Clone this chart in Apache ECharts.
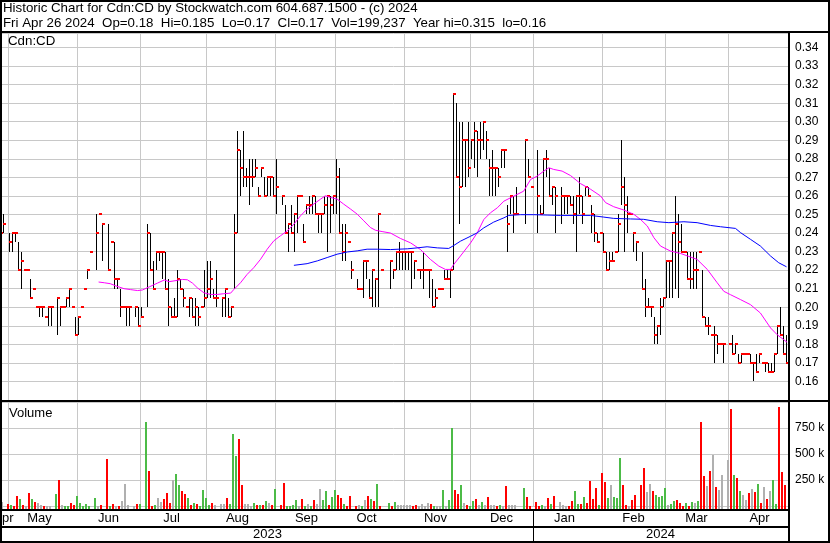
<!DOCTYPE html>
<html><head><meta charset="utf-8">
<script src="https://cdn.jsdelivr.net/npm/echarts@6/dist/echarts.min.js"></script>
<style>html,body{margin:0;padding:0;background:#fff}#c{width:830px;height:543px}</style>
</head><body><div id="c"></div>
<script>
// ---- data (one slot per weekday, Apr 26 2023 .. Apr 26 2024; null = no trade) ----
const startDate = '2023-04-26';
const endDate = '2024-04-26';
const titleLine1 = 'Historic Chart for Cdn:CD by Stockwatch.com 604.687.1500 - (c) 2024';
const titleLine2 = 'Fri Apr 26 2024  Op=0.18  Hi=0.185  Lo=0.17  Cl=0.17  Vol=199,237  Year hi=0.315  lo=0.16';
const symbolLabel = 'Cdn:CD';
const volumeLabel = 'Volume';
const monthNames = ['Jan','Feb','Mar','Apr','May','Jun','Jul','Aug','Sep','Oct','Nov','Dec'];

const highs = [
.245,.25,null,.24,.24,.24,.235,.23,.22,.22,
.215,.21,.20,.20,.20,.195,.20,.20,null,.205,
.20,.20,.205,.21,.20,.195,.195,.20,.21,.22,
.23,null,.25,.25,.245,null,.245,.235,.235,.215,
.21,.20,.20,.20,null,.20,.20,.20,null,.245,
.24,.225,.23,.23,.23,.23,.215,.20,.205,.22,
.215,.21,.20,.205,.205,.205,.20,.20,.22,.225,
.225,.21,.22,null,.205,.21,.205,.20,.25,.295,
.285,.295,.275,.28,.28,.28,.265,.275,.27,.27,
.27,.27,.28,null,.26,.255,.245,.255,.25,.26,
.26,.245,.255,.26,.26,.26,.25,.25,.26,.26,
.26,.26,.28,.275,.245,.245,.235,.225,null,.215,
.21,.225,.225,.215,.22,.215,.25,.22,null,null,
.225,.22,.23,.235,.23,.23,.23,.23,.225,.22,
.22,.23,.22,.22,.215,.21,.21,.21,.22,.22,
.22,.315,.31,.30,.30,.29,.30,.29,.30,.295,
.30,.30,.295,.28,.285,.275,.275,.285,.285,.255,
.26,.26,.265,null,null,.29,.28,.265,null,.285,
.255,.28,.285,.275,.265,.265,null,.265,.26,.26,
.26,.26,.26,.27,.26,.265,.265,.255,.25,.24,
.24,.24,.23,.23,.23,.23,.25,.29,.27,.26,
.25,.24,.235,null,.23,.215,.205,.20,.195,.19,
.205,.205,.225,.225,.24,.26,.25,.245,.23,.23,
.23,.23,.23,.23,.22,.195,.195,.185,.19,.185,
.18,.18,null,.18,.185,.18,.175,.175,.175,.175,
.175,.17,.175,.175,.17,.17,.17,.17,.175,.19,
.20,.19,.185];

const lows = [
.24,.24,null,.23,.23,.235,.22,.21,.22,.22,
.205,.21,.20,.195,.195,.195,.19,.19,null,.185,
.19,.20,.20,.20,.20,.185,.185,.20,.21,.215,
.23,null,.22,.25,.225,null,.22,.235,.21,.21,
.195,.20,.19,.19,null,.195,.19,.195,null,.20,
.22,.21,.22,.225,.215,.21,.19,.195,.195,.195,
.21,.20,.20,.195,.195,.19,.19,.20,.20,.205,
.205,.205,.20,null,.195,.195,.195,.195,.21,.24,
.26,.265,.265,.255,.265,.27,.26,.27,.26,.26,
.26,.26,.25,null,.255,.24,.23,.24,.23,.24,
.26,.235,.25,.25,.25,.25,.24,.24,.25,.23,
.24,.25,.25,.24,.225,.225,.235,.215,null,.21,
.21,.205,.215,.205,.20,.20,.20,.22,null,null,
.21,.215,.22,.22,.22,.22,.22,.21,.215,.22,
.215,.21,.22,.205,.20,.20,.21,.21,.215,.215,
.205,.22,.27,.245,.265,.265,.27,.28,.275,.27,
.28,.285,.28,.26,.26,.26,.265,.275,.275,.23,
.25,.24,.25,null,null,.245,.27,.265,null,.24,
.25,.25,.27,.26,.255,.24,null,.245,.25,.25,
.255,.245,.23,.25,.245,.26,.26,.24,.235,.235,
.24,.23,.22,.22,.225,.23,.23,.255,.23,.24,
.25,.23,.225,null,.21,.195,.20,.195,.18,.18,
.185,.20,.205,.205,.205,.21,.205,.23,.23,.215,
.21,.21,.21,.23,.195,.19,.185,.185,.17,.175,
.18,.17,null,.18,.175,.175,.17,.17,.175,.175,
.17,.16,.165,.17,.17,.165,.165,.165,.165,.175,
.185,.175,.17];

const closes = [
.24,.245,null,.235,.24,.24,.22,.225,.22,.22,
.205,.21,.20,.20,.20,.195,.20,.20,null,.205,
.20,.20,.205,.21,.20,.185,.195,.20,.21,.22,
.23,null,.24,.25,.245,null,.22,.235,.215,.215,
.20,.20,.20,.20,null,.20,.19,.195,null,.24,
.22,.21,.23,.23,.23,.21,.20,.195,.195,.215,
.21,.205,.20,.205,.195,.20,.195,.20,.205,.21,
.215,.205,.205,null,.205,.21,.195,.20,.24,.285,
.275,.27,.27,.27,.27,.275,.26,.275,.26,.27,
.27,.26,.265,null,.26,.24,.245,.24,.25,.26,
.26,.235,.255,.255,.26,.25,.25,.25,.255,.26,
.255,.26,.27,.24,.23,.24,.235,.22,null,.21,
.21,.225,.225,.205,.22,.215,.25,.22,null,null,
.225,.22,.23,.23,.23,.23,.23,.23,.225,.22,
.22,.22,.22,.22,.20,.205,.21,.21,.215,.215,
.22,.315,.27,.265,.29,.29,.275,.29,.295,.29,
.29,.30,.29,.275,.275,.275,.27,.285,.285,.245,
.26,.25,.25,null,null,.29,.27,.265,null,.26,
.25,.28,.28,.26,.265,.26,null,.26,.26,.26,
.255,.25,.26,.26,.25,.265,.26,.25,.24,.235,
.24,.23,.22,.225,.225,.23,.245,.265,.255,.25,
.25,.24,.235,null,.21,.20,.20,.20,.185,.19,
.20,.205,.225,.225,.24,.245,.235,.23,.23,.215,
.215,.22,.22,.23,.195,.19,.19,.185,.185,.18,
.18,.18,null,.18,.175,.18,.17,.175,.175,.175,
.17,.17,.165,.175,.17,.17,.165,.165,.175,.19,
.185,.175,.17];

const volumes = [
20000,40000,null,17000,5000,3000,95000,66000,5000,4000,
124000,66000,37000,27000,14000,3000,3000,3000,null,114000,
250000,5000,3000,3000,27000,8000,95000,27000,3000,17000,
3000,null,76000,3000,5000,null,453000,3000,17000,3000,
3000,47000,211000,8000,null,3000,17000,17000,null,812000,
337000,3000,5000,76000,37000,66000,124000,27000,250000,308000,
202000,143000,114000,76000,8000,27000,17000,3000,153000,76000,
5000,27000,8000,null,17000,17000,76000,17000,696000,483000,
647000,202000,17000,17000,3000,27000,5000,5000,5000,47000,
27000,5000,163000,null,5000,221000,3000,3000,5000,56000,
2000,66000,3000,17000,3000,56000,17000,163000,56000,143000,
5000,85000,153000,105000,76000,17000,3000,95000,null,3000,
5000,3000,56000,95000,66000,47000,211000,3000,null,null,
27000,2000,37000,8000,8000,8000,5000,8000,2000,5000,
2000,17000,3000,27000,17000,2000,3000,2000,153000,2000,
56000,754000,153000,114000,202000,27000,5000,2000,47000,66000,
8000,37000,5000,85000,5000,8000,3000,5000,2000,192000,
8000,8000,8000,null,null,172000,85000,3000,null,37000,
2000,8000,3000,76000,17000,95000,null,37000,5000,3000,
2000,47000,143000,17000,17000,85000,27000,240000,66000,172000,
8000,318000,231000,76000,202000,85000,76000,463000,202000,5000,
3000,56000,105000,null,202000,366000,134000,211000,143000,105000,
85000,95000,172000,8000,17000,47000,56000,27000,2000,27000,
3000,37000,27000,47000,812000,289000,192000,337000,495000,182000,
153000,298000,null,444000,928000,298000,269000,143000,105000,56000,
124000,163000,134000,211000,27000,182000,66000,143000,250000,17000,
948000,327000,199237];

// u = up (green), d = down (red), n = unchanged (grey)
const volDir = [
'n','n',null,'d','u','d','d','u','d','n',
'd','u','d','n','n','d','n','n',null,'u',
'd','n','u','u','d','d','u','u','u','u',
'u',null,'u','n','d',null,'d','u','d','n',
'd','n','n','n',null,'n','d','u',null,'u',
'd','d','u','n','n','d','d','d','n','u',
'u','d','d','u','d','u','d','u','u','u',
'u','d','n',null,'n','n','d','u','u','u',
'd','d','n','n','n','u','d','u','d','u',
'n','d','u',null,'d','d','u','u','u','u',
'n','d','u','n','u','d','n','n','u','u',
'd','u','u','d','d','u','d','d',null,'d',
'n','u','n','d','u','d','u','d',null,null,
'u','d','u','n','n','n','n','n','d','d',
'n','n','n','n','d','u','n','n','u','n',
'u','u','d','d','u','n','d','u','u','d',
'n','u','n','d','n','n','d','u','n','d',
'n','n','n',null,null,'u','d','d',null,'d',
'd','u','n','d','u','d',null,'n','n','n',
'd','d','u','u','d','u','d','d','d','d',
'u','d','d','u','n','u','u','u','d','d',
'n','d','d',null,'d','d','n','n','d','u',
'u','u','u','n','u','u','d','d','d','u',
'd','u','n','u','d','d','n','d','n','d',
'n','n',null,'n','d','u','d','u','n','n',
'd','n','d','u','d','n','d','n','u','u',
'd','d','d'];

// moving averages: [slot, value]
const maMagenta = [[32.7,.2136],[34.6,.2132],[36.6,.2127],[38.8,.2113],[41.2,.2100],[43.4,.2095],[45.7,.2090],[47.3,.2093],[49.6,.2110],[52.3,.2130],[54.6,.2147],[56.2,.2138],[59,.2145],[60.7,.2150],[62.3,.2148],[64,.2130],[65.6,.2105],[67.8,.2078],[70,.2069],[72.2,.2069],[74.4,.2073],[76.7,.2076],[77.8,.2096],[80,.2132],[82.2,.2177],[84.4,.2213],[86.7,.2259],[88.9,.2313],[91.1,.2358],[93.3,.2385],[95.6,.2412],[97.8,.2448],[100,.2493],[102.2,.2529],[104.4,.2556],[106.7,.2583],[108.3,.2601],[110,.2592],[112.2,.2583],[114.4,.2556],[116.7,.2529],[118.9,.2502],[121.1,.2466],[123.3,.2430],[125,.2415],[127.2,.2408],[130,.2400],[133.3,.2371],[136.7,.2347],[140,.2311],[143.3,.2258],[146.1,.2222],[148.3,.2204],[150,.2204],[151.1,.2231],[153.3,.2276],[156.7,.2347],[158.9,.2401],[161.1,.2473],[163.3,.2509],[165.6,.2536],[167.8,.2572],[171.1,.2599],[174.4,.2626],[176.7,.2689],[178.9,.2707],[181.1,.2734],[182.8,.2752],[184.4,.2743],[187.2,.2734],[190,.2710],[193.3,.2667],[196.7,.2636],[200,.2600],[201.7,.2564],[204.4,.2542],[207.8,.2524],[211.1,.2501],[213.3,.2474],[215.6,.2438],[217.8,.2375],[220,.2330],[223.3,.2303],[226.7,.2290],[232.2,.2258],[235.6,.2204],[238.9,.2132],[241.1,.2086],[243.3,.2068],[246.7,.2041],[250,.2014],[253.3,.1969],[256.7,.1888],[258.9,.1852],[261.1,.1825],[262.2,.1811]];
const maBlue = [[97.8,.2226],[102.2,.2235],[105.6,.2250],[108.9,.2268],[112.2,.2286],[115.6,.2298],[118.9,.2304],[122.2,.2313],[125.6,.2313],[130,.2311],[135.6,.2315],[138.9,.2320],[142.2,.2326],[145.6,.2320],[149.4,.2317],[151.1,.2333],[153.3,.2356],[156.7,.2383],[158.9,.2401],[161.1,.2428],[164.4,.2459],[167.8,.2482],[169.4,.2495],[173.3,.2499],[177.8,.2499],[182.2,.2497],[186.7,.2495],[191.1,.2495],[196.7,.2495],[201.1,.2486],[204.4,.2479],[210,.2476],[214.4,.2474],[218.9,.2461],[222.8,.2456],[227.8,.2461],[232.2,.2456],[236.7,.2441],[240,.2434],[245,.2425],[246.7,.2402],[250,.2366],[253.3,.2330],[256.7,.2276],[259.4,.2240],[262,.2218]];

// ---- build ----
const dates = [];
for (let d = new Date(startDate + 'T00:00:00Z'); d <= new Date(endDate + 'T00:00:00Z'); d.setUTCDate(d.getUTCDate() + 1)) {
  const wd = d.getUTCDay();
  if (wd === 0 || wd === 6) continue;
  dates.push(d.toISOString().slice(0, 10));
}
const N = dates.length;

// month grid lines: first weekday of month (or last weekday before a weekend 1st)
const gridIdx = [];
for (let i = 1; i < N; i++) {
  if (dates[i].slice(5, 7) !== dates[i - 1].slice(5, 7)) {
    gridIdx.push(dates[i].slice(8, 10) === '01' ? i : i - 1);
  }
}
const gridSet = new Set(gridIdx);
// month label: around mid-month (two weeks after the month's grid line); partial first month centred
const monthLabel = new Map();
monthLabel.set(Math.floor(gridIdx[0] / 2), monthNames[parseInt(dates[0].slice(5, 7), 10) - 1]);
gridIdx.forEach(g => {
  const idx = Math.min(g + 10, N - 1);
  monthLabel.set(idx, monthNames[parseInt(dates[g + 1].slice(5, 7), 10) - 1]);
});
const janIdx = gridIdx.find(g => dates[g + 1].slice(0, 4) !== dates[0].slice(0, 4));
const yearBounds = [0, janIdx, N];
const yearLabel = new Map();
for (let i = 0; i < 2; i++) {
  const idx = Math.floor((yearBounds[i] + yearBounds[i + 1]) / 2);
  yearLabel.set(idx, dates[idx].slice(0, 4));
}

const priceData = [];
const volData = [];
for (let k = 0; k < N; k++) {
  if (highs[k] != null) priceData.push([k, highs[k], lows[k], closes[k]]);
  if (volumes[k] != null) volData.push([k, volumes[k], volDir[k] === 'u' ? 1 : (volDir[k] === 'd' ? -1 : 0)]);
}

const FONT = '"Liberation Sans", Arial, sans-serif';
const GRID_L = -1, PLOT_W = 789;
const chart = echarts.init(document.getElementById('c'), null, {renderer: 'canvas'});

const option = {
  animation: false,
  backgroundColor: '#ffffff',
  grid: [
    {left: GRID_L, top: 33, width: PLOT_W, height: 367, outerBoundsMode: 'none'},
    {left: GRID_L, top: 402, width: PLOT_W, height: 104, outerBoundsMode: 'none'}
  ],
  xAxis: [
    {type: 'category', gridIndex: 0, data: dates, boundaryGap: true, position: 'bottom',
     axisLine: {show: false}, axisTick: {show: false}, axisLabel: {show: false},
     splitLine: {show: true, interval: (i) => gridSet.has(i), lineStyle: {color: '#c8c8c8', width: 1}}},
    {type: 'category', gridIndex: 1, data: dates, boundaryGap: true, position: 'bottom',
     axisLine: {show: false, onZero: false}, axisTick: {show: false},
     axisLabel: {show: true, interval: (i) => monthLabel.has(i), formatter: (v, i) => monthLabel.get(i) || '',
       align: 'center', alignMinLabel: 'center', alignMaxLabel: 'center', hideOverlap: false,
       margin: 6, fontSize: 13, fontFamily: FONT, color: '#000'},
     splitLine: {show: true, interval: (i) => gridSet.has(i), lineStyle: {color: '#c8c8c8', width: 1}}},
    {type: 'category', gridIndex: 1, data: dates, boundaryGap: true, position: 'bottom',
     axisLine: {show: false, onZero: false}, axisTick: {show: false}, splitLine: {show: false},
     axisLabel: {show: true, interval: (i) => yearLabel.has(i), formatter: (v, i) => yearLabel.get(i) || '',
       align: 'center', alignMinLabel: 'center', alignMaxLabel: 'center',
       margin: 21.5, fontSize: 13, fontFamily: FONT, color: '#000'}},
    {type: 'value', gridIndex: 0, show: false, min: -0.5, max: N - 0.5, position: 'top'}
  ],
  yAxis: [
    {type: 'value', gridIndex: 0, position: 'right', min: 0.15, max: 0.15 + 367 / 1855, interval: 0.01,
     axisLine: {show: false}, axisTick: {show: false},
     axisLabel: {margin: 7, fontSize: 12, fontFamily: FONT, color: '#000',
       formatter: (v) => (v < 0.155 || v > 0.345) ? '' : v.toFixed(2)},
     splitLine: {show: true, lineStyle: {color: '#c8c8c8', width: 1}}},
    {type: 'value', gridIndex: 1, position: 'right', min: 0, max: 1000000, interval: 250000,
     axisLine: {show: false}, axisTick: {show: false},
     axisLabel: {margin: 7, fontSize: 12, fontFamily: FONT, color: '#000',
       formatter: (v) => (v <= 0 || v >= 1000000) ? '' : (v / 1000) + ' k'},
     splitLine: {show: true, lineStyle: {color: '#c8c8c8', width: 1}}}
  ],
  series: [
    {type: 'custom', name: 'price', xAxisIndex: 0, yAxisIndex: 0, data: priceData, clip: true,
     encode: {x: 0, y: [1, 2, 3]}, z: 3,
     renderItem: (params, api) => {
       const k = api.value(0);
       const h = api.coord([k, api.value(1)]);
       const l = api.coord([k, api.value(2)]);
       const c = api.coord([k, api.value(3)]);
       const x = Math.round(h[0] - 0.5) + 0.5;
       const cy = Math.round(c[1]);
       return {type: 'group', children: [
         {type: 'line', shape: {x1: x, y1: Math.round(h[1]), x2: x, y2: Math.round(l[1])}, style: {stroke: '#000', lineWidth: 1}},
         {type: 'rect', shape: {x: x - 0.5, y: cy - 1, width: 3, height: 2}, style: {fill: '#ff0000'}}
       ]};
     }},
    {type: 'custom', name: 'volume', xAxisIndex: 1, yAxisIndex: 1, data: volData, clip: false,
     encode: {x: 0, y: 1}, z: 3,
     renderItem: (params, api) => {
       const k = api.value(0), v = api.value(1), dir = api.value(2);
       const top = api.coord([k, v]);
       const base = api.coord([k, 0])[1] + 3;
       const x = Math.round(top[0] - 0.5) - 2;
       const col = dir > 0 ? '#4cbb47' : (dir < 0 ? '#ff0000' : '#b0b0b0');
       return {type: 'rect', shape: {x: x, y: Math.round(top[1]), width: 2, height: base - Math.round(top[1])}, style: {fill: col}};
     }},
    {type: 'line', name: 'MA short', xAxisIndex: 3, yAxisIndex: 0, data: maMagenta, showSymbol: false, symbol: 'none',
     lineStyle: {color: '#ff00ff', width: 1}, z: 4, silent: true},
    {type: 'line', name: 'MA long', xAxisIndex: 3, yAxisIndex: 0, data: maBlue, showSymbol: false, symbol: 'none',
     lineStyle: {color: '#0000ff', width: 1}, z: 4, silent: true}
  ],
  graphic: [
    {type: 'text', left: 3, top: 2, z: 100, style: {text: titleLine1, font: '13.3px ' + FONT, fill: '#000'}},
    {type: 'text', left: 3, top: 16.5, z: 100, style: {text: titleLine2, font: '13.3px ' + FONT, fill: '#000'}},
    {type: 'text', left: 8, top: 35, z: 100, style: {text: symbolLabel, font: '13.3px ' + FONT, fill: '#000'}},
    {type: 'text', left: 9, top: 406.5, z: 100, style: {text: volumeLabel, font: '13px ' + FONT, fill: '#000'}},
    {type: 'rect', z: 100, shape: {x: 1, y: 1, width: 828, height: 541}, style: {fill: 'none', stroke: '#000', lineWidth: 2}},
    {type: 'rect', z: 100, shape: {x: 0, y: 31, width: 830, height: 2}, style: {fill: '#000'}},
    {type: 'rect', z: 100, shape: {x: 0, y: 400, width: 830, height: 2}, style: {fill: '#000'}},
    {type: 'rect', z: 100, shape: {x: 0, y: 509, width: 790, height: 2}, style: {fill: '#000'}},
    {type: 'rect', z: 100, shape: {x: 0, y: 526, width: 790, height: 2}, style: {fill: '#000'}},
    {type: 'rect', z: 100, shape: {x: 788, y: 31, width: 2, height: 512}, style: {fill: '#000'}},
    {type: 'rect', z: 100, shape: {x: 3 * janIdx - 1, y: 511, width: 1, height: 31}, style: {fill: '#000'}}
  ]
};
chart.setOption(option);
</script>
</body></html>
